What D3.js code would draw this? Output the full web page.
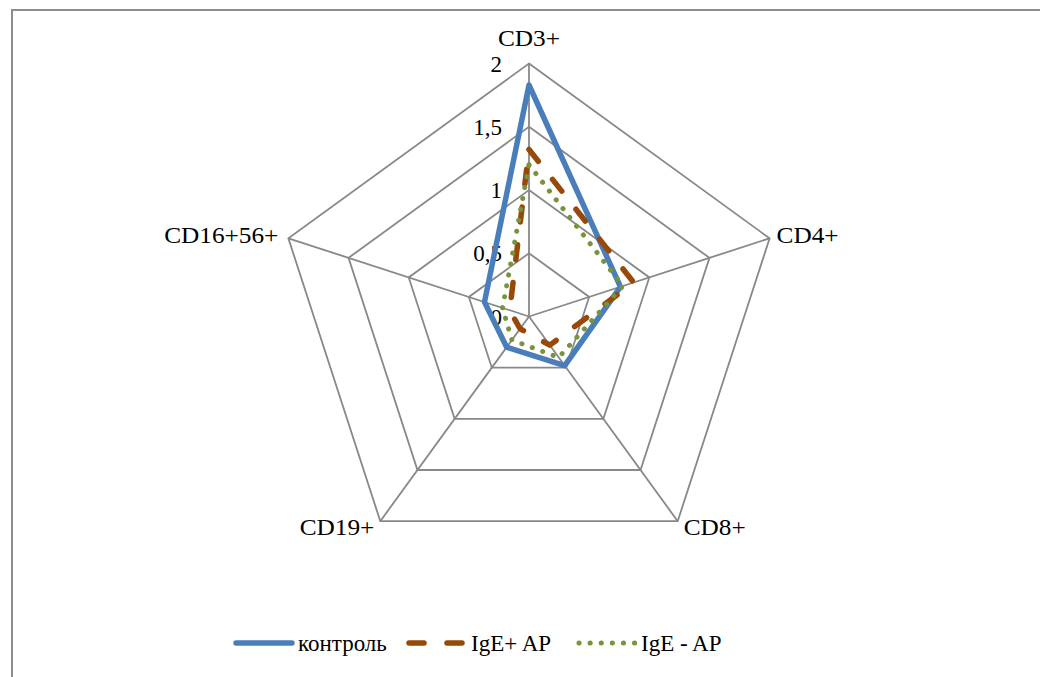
<!DOCTYPE html>
<html>
<head>
<meta charset="utf-8">
<script src="https://cdn.jsdelivr.net/npm/d3@7"></script>
<style>
  html, body { margin: 0; padding: 0; background: #fff; }
  svg { display: block; }
</style>
</head>
<body>
<svg id="chart" width="1040" height="677" font-family="'Liberation Serif', 'DejaVu Serif', serif"></svg>
<script>
// Axes of the radar (clockwise from the top)
const categories = ["CD3+", "CD4+", "CD8+", "CD19+", "CD16+56+"];
// Series values per axis
const control = [1.83, 0.76, 0.48, 0.30, 0.37];
const igePos  = [1.32, 0.87, 0.28, 0.12, 0.16];
const igeNeg  = [1.20, 0.78, 0.40, 0.23, 0.22];
// Radial tick values and their labels
const tickValues = [0, 0.5, 1, 1.5, 2];
const tickLabels = ["0", "0,5", "1", "1,5", "2"];
const seriesNames = ["контроль", "IgE+ AP", "IgE - AP"];

const svg = d3.select("#chart");
const cx = 529, cy = 316.5, R = 253;
const r = d3.scaleLinear().domain([0, 2]).range([0, R]);
const angle = d3.scaleLinear().domain([0, categories.length]).range([0, 2 * Math.PI]);
const pt = (i, v) => [cx + r(v) * Math.sin(angle(i)), cy - r(v) * Math.cos(angle(i))];

// Outer frame
svg.append("rect")
  .attr("x", 12).attr("y", 10).attr("width", 1040).attr("height", 700)
  .attr("fill", "none").attr("stroke", "#8c8c8c").attr("stroke-width", 2);

const grid = svg.append("g").attr("fill", "none").attr("stroke", "#888888").attr("stroke-width", 1.8);

// Concentric pentagons
tickValues.filter(t => t > 0).forEach(t => {
  grid.append("polygon")
    .attr("points", categories.map((c, i) => pt(i, t).join(",")).join(" "));
});
// Spokes
categories.forEach((c, i) => {
  const [x, y] = pt(i, 2);
  grid.append("line").attr("x1", cx).attr("y1", cy).attr("x2", x).attr("y2", y);
});

// Radial tick labels along the first axis
svg.append("g").selectAll("text")
  .data(tickValues)
  .join("text")
  .attr("x", cx - 27)
  .attr("y", d => cy - r(d) + 8)
  .attr("text-anchor", "end")
  .attr("font-size", 23)
  .text((d, i) => tickLabels[i]);

// Category labels
const labelPos = [
  { dx: 0, dy: -18, anchor: "middle" },
  { dx: 7, dy: 5, anchor: "start" },
  { dx: 6, dy: 14, anchor: "start" },
  { dx: -6, dy: 14, anchor: "end" },
  { dx: -10, dy: 5, anchor: "end" }
];
svg.append("g").selectAll("text")
  .data(categories)
  .join("text")
  .attr("transform", (d, i) => {
    const [x, y] = pt(i, 2);
    return `translate(${x + labelPos[i].dx},${y + labelPos[i].dy}) scale(1.1,1)`;
  })
  .attr("text-anchor", (d, i) => labelPos[i].anchor)
  .attr("font-size", 23)
  .text(d => d);

// Series
const styles = [
  { color: "#4a7ebb", width: 5.5, dash: null },
  { color: "#984807", width: 5.5, dash: "15,23" },
  { color: "#77933c", width: 5, dash: "0.1,11" }
];
const seriesData = [control, igePos, igeNeg];

const line = d3.line().curve(d3.curveLinearClosed);
seriesData.forEach((vals, s) => {
  svg.append("path")
    .attr("d", line(vals.map((v, i) => pt(i, v))))
    .attr("fill", "none")
    .attr("stroke", styles[s].color)
    .attr("stroke-width", styles[s].width)
    .attr("stroke-linejoin", "round")
    .attr("stroke-linecap", "round")
    .attr("stroke-dasharray", styles[s].dash);
});

// Legend
const legendX = [236, 409, 579];
const legendY = 643;
const lg = svg.append("g");
seriesNames.forEach((name, s) => {
  lg.append("line")
    .attr("x1", legendX[s]).attr("x2", legendX[s] + 56)
    .attr("y1", legendY).attr("y2", legendY)
    .attr("stroke", styles[s].color)
    .attr("stroke-width", styles[s].width)
    .attr("stroke-linecap", "round")
    .attr("stroke-dasharray", styles[s].dash);
  lg.append("text")
    .attr("x", legendX[s] + 62).attr("y", legendY + 8)
    .attr("font-size", 23)
    .text(name);
});
</script>
</body>
</html>
